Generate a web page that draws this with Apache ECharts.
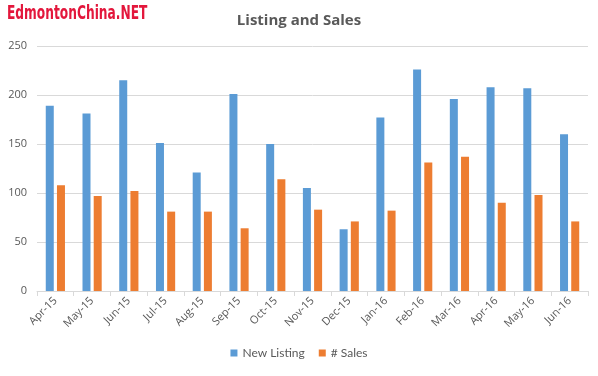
<!DOCTYPE html>
<html><head><meta charset="utf-8">
<script src="https://cdn.jsdelivr.net/npm/echarts@6/dist/echarts.min.js"></script>
<style>html,body{margin:0;padding:0;background:#fff}#c{width:598px;height:376px}</style>
</head><body><div id="c"></div>
<script>
const categories = ['Apr-15','May-15','Jun-15','Jul-15','Aug-15','Sep-15','Oct-15','Nov-15','Dec-15','Jan-16','Feb-16','Mar-16','Apr-16','May-16','Jun-16'];
const newListing = [189,181,215,151,121,201,150,105,63,177,226,196,208,207,160];
const sales = [108,97,102,81,81,64,114,83,71,82,131,137,90,98,71];
const yTicks = [0,50,100,150,200,250];

const chart = echarts.init(document.getElementById('c'));
chart.setOption({
  animation:false,
  title:[{text:'Listing and Sales',left:'center',top:8,textStyle:{fontFamily:'Open Sans',fontSize:15,fontWeight:'bold',color:'#595959'}}],
  graphic:[{type:'text',x:7,y:4,scaleX:0.68,
    style:{text:'EdmontonChina.NET',font:'bold 20px "DejaVu Sans Condensed"',fill:'#e3173c',textVerticalAlign:'top'}}],
  grid:{left:37,right:10,top:46,bottom:85},
  legend:{bottom:12,left:'center',itemWidth:7,itemHeight:7,itemGap:14,icon:'rect',
    textStyle:{fontFamily:'Lato',fontSize:12,color:'#595959'},data:['New Listing','# Sales']},
  xAxis:{type:'category',data:categories,
    axisLine:{lineStyle:{color:'#d9d9d9'}},
    axisTick:{show:true,alignWithLabel:false,lineStyle:{color:'#d9d9d9'}},
    axisLabel:{rotate:45,color:'#595959',fontFamily:'Open Sans',fontSize:11,margin:8,interval:0}},
  yAxis:{type:'value',min:yTicks[0],max:yTicks[yTicks.length-1],interval:50,
    axisLine:{show:false},axisTick:{show:false},
    splitLine:{lineStyle:{color:'#d9d9d9'}},
    axisLabel:{color:'#595959',fontFamily:'Open Sans',fontSize:11,margin:10}},
  series:[
    {name:'New Listing',type:'bar',data:newListing,barWidth:8,barGap:'40%',itemStyle:{color:'#5b9bd5'}},
    {name:'# Sales',type:'bar',data:sales,barWidth:8,itemStyle:{color:'#ed7d31'}}
  ]
});
</script></body></html>
